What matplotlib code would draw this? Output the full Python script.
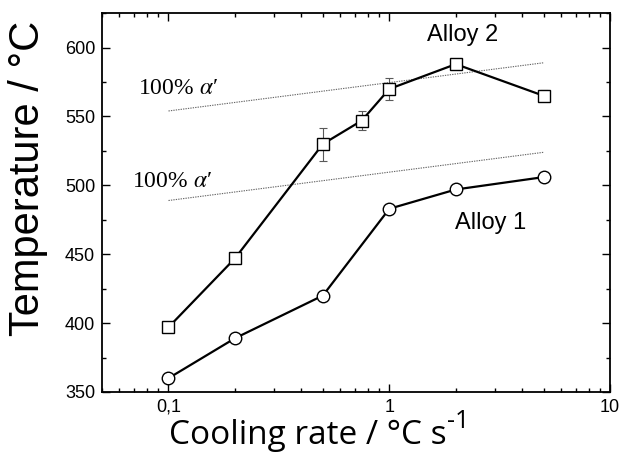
import matplotlib
matplotlib.use("Agg")
import matplotlib.pyplot as plt
from matplotlib.ticker import FixedLocator, FixedFormatter, MultipleLocator, LogLocator, NullFormatter

plt.rcParams['mathtext.fontset'] = 'stix'

# Data
rate1 = [0.1, 0.2, 0.5, 1, 2, 5]
temp1 = [360, 389, 420, 483, 497, 506]

rate2 = [0.1, 0.2, 0.5, 0.75, 1, 2, 5]
temp2 = [397, 447, 530, 547, 570, 588, 565]
err2 = [0, 1.5, 12, 7, 8, 1, 4]

line_x = [0.1, 5]
upper_line = [554, 589]
lower_line = [489, 524]

xticks = [0.1, 1, 10]
xticklabels = ["0,1", "1", "10"]
yticks = [350, 400, 450, 500, 550, 600]

fig = plt.figure(figsize=(6.22, 4.54), dpi=100)
ax = fig.add_axes([0.164, 0.1366, 0.817, 0.8344])
ax.set_xscale('log')

ax.plot(line_x, upper_line, linestyle=(0, (1.2, 1)), color='0.4', lw=0.8)
ax.plot(line_x, lower_line, linestyle=(0, (1.2, 1)), color='0.4', lw=0.8)

ax.errorbar(rate2, temp2, yerr=err2, fmt='none', ecolor='0.35', elinewidth=0.8, capsize=3, capthick=0.8, zorder=2)
ax.plot(rate2, temp2, '-', color='black', lw=1.6, marker='s', ms=8, mfc='white', mec='black', mew=1.0, zorder=3)
ax.plot(rate1, temp1, '-', color='black', lw=1.6, marker='o', ms=9, mfc='white', mec='black', mew=1.0, zorder=3)

ax.set_xlim(0.05, 10)
ax.set_ylim(350, 625)

ax.xaxis.set_major_locator(FixedLocator(xticks))
ax.xaxis.set_major_formatter(FixedFormatter(xticklabels))
ax.xaxis.set_minor_locator(LogLocator(base=10, subs=range(2, 10)))
ax.xaxis.set_minor_formatter(NullFormatter())
ax.yaxis.set_major_locator(FixedLocator(yticks))
ax.yaxis.set_minor_locator(MultipleLocator(25))

ax.tick_params(which='both', direction='in', top=True, right=True, labelsize=13)
ax.tick_params(which='major', length=6, width=1, pad=5)
ax.tick_params(which='minor', length=3, width=1)
for lab in ax.get_xticklabels() + ax.get_yticklabels():
    lab.set_fontfamily('Liberation Sans')
for s in ax.spines.values():
    s.set_linewidth(1.3)

ax.set_ylabel('Temperature / °C', fontsize=30, fontfamily='Liberation Sans', labelpad=12, y=0.565)
xl = ax.set_xlabel('Cooling rate / °C s', fontsize=24, fontfamily='Open Sans', labelpad=2, x=0.405)
ax.annotate('-1', xy=(1, 1), xycoords=xl, xytext=(0.5, -7), textcoords='offset points',
            fontsize=18, fontfamily='Open Sans', ha='left', va='baseline', annotation_clip=False)

alpha_label = "100% $\\alpha$\u2032"
ax.text(0.0724, 570.4, alpha_label, fontsize=17, fontfamily=['Liberation Serif', 'DejaVu Serif'], va='center', ha='left')
ax.text(0.0687, 502.5, alpha_label, fontsize=17, fontfamily=['Liberation Serif', 'DejaVu Serif'], va='center', ha='left')
ax.text(2.14, 609, 'Alloy 2', fontsize=17, fontfamily='Liberation Sans', va='center', ha='center')
ax.text(2.89, 472.8, 'Alloy 1', fontsize=17, fontfamily='Liberation Sans', va='center', ha='center')

fig.savefig('out.png', dpi=100)
